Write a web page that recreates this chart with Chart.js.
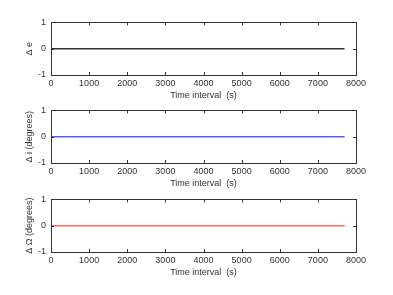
<!DOCTYPE html>
<html>
<head>
<meta charset="utf-8">
<script src="https://cdn.jsdelivr.net/npm/chart.js@4"></script>
<style>
  body { margin: 0; background: #fff; }
  #wrap { position: relative; width: 393px; height: 295px; }
  .box { position: absolute; left: 0; width: 393px; height: 90px; }
</style>
</head>
<body>
<div id="wrap">
  <div class="box" style="top:12px"><canvas id="c1"></canvas></div>
  <div class="box" style="top:100px"><canvas id="c2"></canvas></div>
  <div class="box" style="top:189px"><canvas id="c3"></canvas></div>
</div>
<script>
// 時間 (s) と各要素の変化量
const timeValues = [0, 7700]
const deltaE = [0, 0]
const deltaI = [0, 0]
const deltaOmega = [0, 0]
const xTicks = [0, 1000, 2000, 3000, 4000, 5000, 6000, 7000, 8000]
const yTicks = [-1, 0, 1]

const font = { family: 'Liberation Sans, Arial, sans-serif', size: 9 }
const ink = '#333'

// 枠と内向きの目盛り
const frame = {
  id: 'frame',
  afterDraw(chart) {
    const { ctx, chartArea: a, scales } = chart
    ctx.save()
    ctx.strokeStyle = ink
    ctx.lineWidth = 1
    ctx.strokeRect(Math.round(a.left) + 0.5, Math.round(a.top) + 0.5,
      Math.round(a.right - a.left), Math.round(a.bottom - a.top))
    ctx.beginPath()
    xTicks.forEach(v => {
      const x = Math.round(scales.x.getPixelForValue(v)) + 0.5
      ctx.moveTo(x, a.top); ctx.lineTo(x, a.top + 3)
      ctx.moveTo(x, a.bottom); ctx.lineTo(x, a.bottom - 3)
    })
    yTicks.forEach(v => {
      const y = Math.round(scales.y.getPixelForValue(v)) + 0.5
      ctx.moveTo(a.left, y); ctx.lineTo(a.left + 3, y)
      ctx.moveTo(a.right, y); ctx.lineTo(a.right - 3, y)
    })
    ctx.stroke()
    ctx.restore()
  }
}

function makePlot(id, values, color, yLabel) {
  new Chart(document.getElementById(id), {
    type: 'line',
    data: {
      datasets: [{
        data: timeValues.map((t, i) => ({ x: t, y: values[i] })),
        borderColor: color,
        borderWidth: 1.5,
        pointRadius: 0,
        fill: false
      }]
    },
    options: {
      responsive: true,
      maintainAspectRatio: false,
      animation: false,
      layout: { padding: { top: 10, right: 37, left: 0, bottom: 0 } },
      plugins: { legend: { display: false }, tooltip: { enabled: false } },
      scales: {
        x: {
          type: 'linear', min: 0, max: 8000,
          afterBuildTicks: s => { s.ticks = xTicks.map(v => ({ value: v })) },
          afterFit: s => { s.height = 27 },
          grid: { display: false, drawTicks: false },
          border: { display: false },
          ticks: { font: font, color: ink, padding: 3, maxRotation: 0, callback: v => String(v) },
          title: { display: true, text: 'Time interval  (s)', font: font, color: ink, padding: { top: 2, bottom: 1 } }
        },
        y: {
          min: -1, max: 1,
          afterBuildTicks: s => { s.ticks = yTicks.map(v => ({ value: v })) },
          afterFit: s => { s.width = 51 },
          grid: { display: false, drawTicks: false },
          border: { display: false },
          ticks: { font: font, color: ink, padding: 5, callback: v => String(v) },
          title: { display: true, text: yLabel, font: font, color: ink, padding: { top: 24, bottom: 0 } }
        }
      }
    },
    plugins: [frame]
  })
}

makePlot('c1', deltaE, '#333333', 'Δ e')
makePlot('c2', deltaI, '#5a5aff', 'Δ i (degrees)')
makePlot('c3', deltaOmega, '#ff6a6a', 'Δ Ω (degrees)')
</script>
</body>
</html>
